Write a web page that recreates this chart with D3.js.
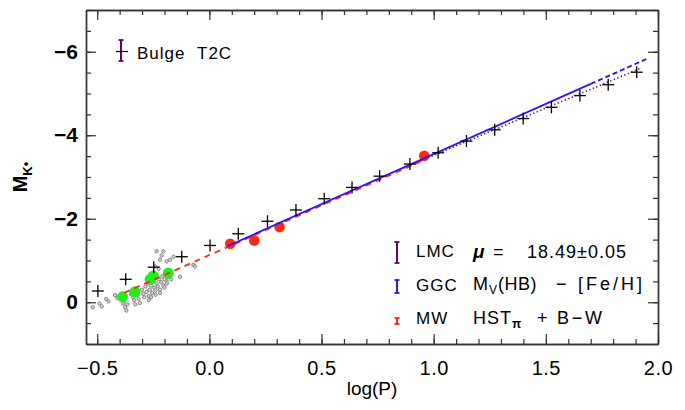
<!DOCTYPE html>
<html lang="en">
<head>
<meta charset="UTF-8" />
<title>Type II Cepheid PL relation</title>
<script src="https://d3js.org/d3.v7.min.js"></script>
<style>
    body { margin: 0; background: #fff; font-family: "Liberation Sans", Arial, sans-serif; }
    svg text { font-family: "Liberation Sans", Arial, sans-serif; }
    .lg { font-size: 17px; letter-spacing: 1px; }
    .rel { font-size: 18px; letter-spacing: 1px; }
</style>
</head>
<body>
<div id="chart"></div>
<script>
    var w = 685, h = 410;

    // Binned bulge T2C means (crosses)
    var crossLogP = [-0.497, -0.373, -0.248, -0.123, 0.003, 0.129, 0.259, 0.386, 0.512, 0.636,
                     0.759, 0.894, 1.02, 1.146, 1.272, 1.399, 1.525, 1.652, 1.778, 1.905];
    var crossMK   = [-0.27, -0.55, -0.84, -1.09, -1.36, -1.64, -1.94, -2.21, -2.48, -2.75,
                     -3.02, -3.31, -3.58, -3.86, -4.13, -4.40, -4.67, -4.95, -5.21, -5.51];

    // Milky Way (red) and GGC (green) calibrators
    var mwLogP = [0.093, 0.20, 0.313, 0.958];
    var mwMK   = [-1.40, -1.48, -1.80, -3.51];
    var ggcLogP = [-0.387, -0.332, -0.264, -0.25, -0.183];
    var ggcMK   = [-0.13, -0.25, -0.55, -0.63, -0.70];

    // individual cluster stars (small grey)
    var starLogP = [-0.52, -0.49, -0.48, -0.46, -0.45, -0.42, -0.41, -0.385, -0.38, -0.375, -0.37, -0.365,
                    -0.35, -0.34, -0.335, -0.33, -0.32, -0.315, -0.31, -0.30, -0.295, -0.29, -0.285, -0.28,
                    -0.275, -0.27, -0.265, -0.26, -0.255, -0.25, -0.245, -0.24, -0.235, -0.23, -0.225, -0.22,
                    -0.215, -0.21, -0.205, -0.20, -0.195, -0.19, -0.185, -0.18, -0.175, -0.17,
                    -0.27, -0.26, -0.24, -0.22, -0.19, -0.20,
                    -0.235, -0.205, -0.22, -0.19, -0.175, -0.16, -0.213, -0.242, -0.226,
                    -0.131, -0.071, -0.065];
    var starMK   = [0.12, 0.03, 0.10, -0.08, -0.02, -0.17, -0.10, 0.03, -0.02, 0.12, 0.20, 0.05,
                    -0.20, -0.12, -0.05, 0.05, -0.18, -0.08, 0.02, -0.30, -0.20, -0.12, -0.38, -0.25,
                    -0.45, -0.15, -0.30, -0.40, -0.22, -0.50, -0.35, -0.28, -0.45, -0.38, -0.55, -0.30,
                    -0.48, -0.62, -0.40, -0.55, -0.68, -0.50, -0.60, -0.75, -0.62, -0.55,
                    -0.05, -0.12, -0.18, -0.22, -0.45, -0.35,
                    -1.22, -1.22, -1.02, -0.98, -1.02, -1.09, -1.12, -0.86, -0.80,
                    -0.61, -0.90, -0.86];

    // PL fits: intercept, slope, logP from, logP to
    var fitNames  = ["MW", "GGC", "GGCext", "LMC"];
    var fitA      = [-1.13, -1.15, -1.15, -1.26];
    var fitB      = [-2.38, -2.40, -2.40, -2.26];
    var fitFrom   = [-0.38, 0.08, 1.70, 0.85];
    var fitTo     = [0.97, 1.70, 1.95, 1.92];
    var fitColor  = ["#ff2a10", "#3010ff", "#3010ff", "#6a1a7a"];
    var fitDash   = ["6,5", null, "5,3", "1.4,2.4"];

    var xTicks = [-0.5, 0.0, 0.5, 1.0, 1.5, 2.0];
    var yTicks = [-6, -4, -2, 0];

    var svg = d3.select("#chart").append("svg")
        .attr("width", w).attr("height", h);

    var x = d3.scaleLinear().domain([-0.55, 2.0]).range([86, 658]);
    var y = d3.scaleLinear().domain([1, -7]).range([344, 10]);

    var axisColor = "#333";

    // minor ticks
    var xMinor = d3.range(-0.5, 2.0001, 0.1).map(function(v) { return +v.toFixed(2); });
    var yMinor = d3.range(-7, 1.0001, 0.5);

    function styleAxis(g) {
        g.selectAll("path").attr("stroke", axisColor).attr("stroke-width", 1.4);
        g.selectAll("line").attr("stroke", axisColor).attr("stroke-width", 1.2);
    }

    svg.append("g").attr("transform", "translate(0,344)")
        .call(d3.axisBottom(x).tickValues(xMinor).tickSize(-5).tickSizeOuter(0).tickFormat(""))
        .call(styleAxis);
    svg.append("g").attr("transform", "translate(0,10)")
        .call(d3.axisTop(x).tickValues(xMinor).tickSize(-5).tickSizeOuter(0).tickFormat(""))
        .call(styleAxis);
    svg.append("g").attr("transform", "translate(86,0)")
        .call(d3.axisLeft(y).tickValues(yMinor).tickSize(-5).tickSizeOuter(0).tickFormat(""))
        .call(styleAxis);
    svg.append("g").attr("transform", "translate(658,0)")
        .call(d3.axisRight(y).tickValues(yMinor).tickSize(-5).tickSizeOuter(0).tickFormat(""))
        .call(styleAxis);

    // major ticks + labels
    var xAx = svg.append("g").attr("transform", "translate(0,344)")
        .call(d3.axisBottom(x).tickValues(xTicks).tickSize(-10).tickSizeOuter(0)
            .tickPadding(17).tickFormat(d3.format(".1f")))
        .call(styleAxis);
    xAx.selectAll("text").attr("fill", "#000").style("font-size", "20px")
        .style("letter-spacing", "0.5px");

    svg.append("g").attr("transform", "translate(0,10)")
        .call(d3.axisTop(x).tickValues(xTicks).tickSize(-10).tickSizeOuter(0).tickFormat(""))
        .call(styleAxis);

    var yAx = svg.append("g").attr("transform", "translate(86,0)")
        .call(d3.axisLeft(y).tickValues(yTicks).tickSize(-10).tickSizeOuter(0)
            .tickPadding(8).tickFormat(d3.format("d")))
        .call(styleAxis);
    yAx.selectAll("text").attr("fill", "#000").style("font-size", "21px").style("font-weight", "bold");

    svg.append("g").attr("transform", "translate(658,0)")
        .call(d3.axisRight(y).tickValues(yTicks).tickSize(-10).tickSizeOuter(0).tickFormat(""))
        .call(styleAxis);

    // axis titles
    svg.append("text")
        .attr("x", 372).attr("y", 395)
        .attr("text-anchor", "middle")
        .style("font-size", "19px")
        .text("log(P)");

    var yt = svg.append("text")
        .attr("transform", "translate(27,177) rotate(-90)")
        .attr("text-anchor", "middle")
        .style("font-size", "20px").style("font-weight", "bold");
    yt.append("tspan").text("M");
    yt.append("tspan").attr("dy", 5).style("font-size", "13px").text("K");
    yt.append("tspan").attr("dy", -2).style("font-size", "13px").text("\u2022");

    var plot = svg.append("g");

    // grey individual stars
    plot.selectAll("circle.star")
        .data(d3.range(starLogP.length))
        .enter().append("circle")
        .attr("class", "star")
        .attr("cx", function(i) { return x(starLogP[i]); })
        .attr("cy", function(i) { return y(starMK[i]); })
        .attr("r", 1.7)
        .attr("fill", "#d0d0d0")
        .attr("stroke", "#808080")
        .attr("stroke-width", 0.9);

    // green GGC
    plot.selectAll("circle.ggc")
        .data(d3.range(ggcLogP.length))
        .enter().append("circle")
        .attr("class", "ggc")
        .attr("cx", function(i) { return x(ggcLogP[i]); })
        .attr("cy", function(i) { return y(ggcMK[i]); })
        .attr("r", 5.5)
        .attr("fill", "#1ef01e");

    // red MW
    plot.selectAll("circle.mw")
        .data(d3.range(mwLogP.length))
        .enter().append("circle")
        .attr("class", "mw")
        .attr("cx", function(i) { return x(mwLogP[i]); })
        .attr("cy", function(i) { return y(mwMK[i]); })
        .attr("r", 5.3)
        .attr("fill", "#ff2a10");

    // fit lines (LMC first so blue on top)
    var order = [3, 0, 1, 2];
    order.forEach(function(i) {
        var pts = [fitFrom[i], fitTo[i]].map(function(p) { return [p, fitA[i] + fitB[i] * p]; });
        plot.append("path")
            .datum(pts)
            .attr("d", d3.line().x(function(d) { return x(d[0]); }).y(function(d) { return y(d[1]); }))
            .attr("fill", "none")
            .attr("stroke", fitColor[i])
            .attr("stroke-width", i === 3 ? 1.6 : 1.8)
            .attr("stroke-dasharray", fitDash[i]);
    });

    // crosses
    var cs = 6;
    var crosses = plot.selectAll("g.cross")
        .data(d3.range(crossLogP.length))
        .enter().append("g")
        .attr("transform", function(i) { return "translate(" + x(crossLogP[i]) + "," + y(crossMK[i]) + ")"; });
    crosses.append("line").attr("x1", -cs).attr("x2", cs).attr("y1", 0).attr("y2", 0)
        .attr("stroke", "#000").attr("stroke-width", 1.3);
    crosses.append("line").attr("x1", 0).attr("x2", 0).attr("y1", -cs).attr("y2", cs)
        .attr("stroke", "#000").attr("stroke-width", 1.3);

    // error-bar legend icon
    function errBar(cx, y1, y2, color) {
        var g = svg.append("g");
        g.append("line").attr("x1", cx).attr("x2", cx).attr("y1", y1).attr("y2", y2)
            .attr("stroke", color).attr("stroke-width", 2);
        [y1, y2].forEach(function(yy) {
            g.append("line").attr("x1", cx - 2.5).attr("x2", cx + 2.5).attr("y1", yy).attr("y2", yy)
                .attr("stroke", color).attr("stroke-width", 1.8);
        });
        return g;
    }

    // Bulge T2C label
    var bb = errBar(121, 40, 61, "#5a0a5a");
    bb.append("line").attr("x1", 116).attr("x2", 128).attr("y1", 51.5).attr("y2", 51.5)
        .attr("stroke", "#000").attr("stroke-width", 1.2);
    svg.append("text").attr("class", "lg").attr("x", 137).attr("y", 59).text("Bulge");
    svg.append("text").attr("class", "lg").attr("x", 197).attr("y", 59).text("T2C");

    // lower-right legend
    errBar(397, 242, 263, "#5a0a5a");
    errBar(397, 280, 293, "#3010ff");
    errBar(397, 318, 324, "#ff2a10");

    svg.append("text").attr("class", "lg").attr("x", 416).attr("y", 257).text("LMC");
    svg.append("text").attr("class", "lg").attr("x", 416).attr("y", 291).text("GGC");
    svg.append("text").attr("class", "lg").attr("x", 416).attr("y", 324).text("MW");

    // LMC relation text
    svg.append("text").attr("x", 473).attr("y", 258).style("font-size", "19px")
        .style("font-weight", "bold").style("font-style", "italic").text("\u03bc");
    svg.append("text").attr("class", "rel").attr("x", 493).attr("y", 258).text("=");
    svg.append("text").attr("class", "rel").attr("x", 527).attr("y", 258).text("18.49\u00b10.05");

    // GGC relation text
    var g2 = svg.append("text").attr("class", "rel").attr("x", 473).attr("y", 290);
    g2.append("tspan").text("M");
    g2.append("tspan").attr("dy", 4).style("font-size", "12px").text("V");
    g2.append("tspan").attr("dy", -4).style("letter-spacing", "0.5px").text("(HB)");
    svg.append("text").attr("class", "rel").attr("x", 556).attr("y", 290).text("\u2212");
    svg.append("text").attr("class", "rel").attr("x", 578).attr("y", 290)
        .attr("textLength", 65).attr("lengthAdjust", "spacing").text("[Fe/H]");

    // MW relation text
    var g3 = svg.append("text").attr("class", "rel").attr("x", 473).attr("y", 324);
    g3.append("tspan").text("HST");
    g3.append("tspan").attr("dy", 4).style("font-size", "12px").style("font-weight", "bold").text("\u03c0");
    svg.append("text").attr("class", "rel").attr("x", 537).attr("y", 324).text("+");
    svg.append("text").attr("class", "rel").attr("x", 557).attr("y", 324)
        .attr("textLength", 46).attr("lengthAdjust", "spacing").text("B\u2212W");
</script>
</body>
</html>
